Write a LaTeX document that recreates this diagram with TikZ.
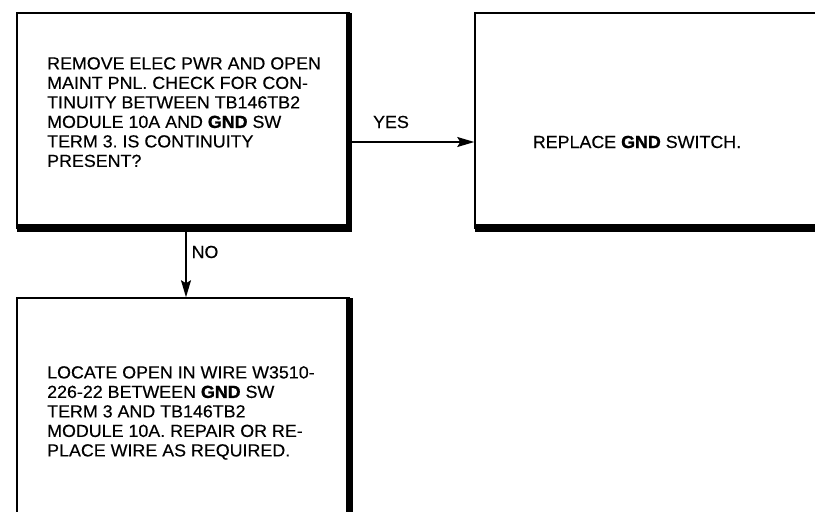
\documentclass[tikz,border=0pt]{standalone}
\usepackage{fontspec}
\setmainfont{Liberation Sans}[FakeStretch=1.02, UprightFeatures={FakeBold=0.3}, BoldFeatures={FakeBold=1.2}]
\usetikzlibrary{arrows.meta}
\frenchspacing
\begin{document}
\begin{tikzpicture}[x=1pt,y=-1pt,
  box/.style={draw, line width=1.5pt, inner sep=0pt},
  txt/.style={font=\fontsize{17.5}{19.5}\selectfont, align=left, anchor=north west, inner sep=0pt},
  lbl/.style={font=\fontsize{17.5}{19.5}\selectfont, inner sep=0pt},
  conn/.style={line width=1.5pt, -{Stealth[length=17pt,width=10pt,inset=3pt]}},
  shadow/.style={fill=black}]
\useasboundingbox (0,0) rectangle (815,512);
\clip (0,0) rectangle (815,512);
% boxes
\node[box, minimum width=332pt, minimum height=215pt] (b1) at (183,120.5) {};
\node[box, minimum width=360pt, minimum height=215pt] (b2) at (655,120.5) {};
\node[box, minimum width=332pt, minimum height=242pt] (b3) at (183,419) {};
% shadows
\fill[shadow] (346,13) rectangle (352,232);
\fill[shadow] (17,224) rectangle (352,232);
\fill[shadow] (475,224) rectangle (830,232);
\fill[shadow] (346,298) rectangle (353,530);
% texts
\node[txt] (t1) at (47,57) {REMOVE ELEC PWR AND OPEN\\MAINT PNL. CHECK FOR CON-\\TINUITY BETWEEN TB146TB2\\MODULE 10A AND \textbf{GND} SW\\TERM 3. IS CONTINUITY\\PRESENT?};
\node[lbl] (t2) at (637,142) {REPLACE \textbf{GND} SWITCH.};
\node[txt] (t3) at (47,366) {LOCATE OPEN IN WIRE W3510-\\226-22 BETWEEN \textbf{GND} SW\\TERM 3 AND TB146TB2\\MODULE 10A. REPAIR OR RE-\\PLACE WIRE AS REQUIRED.};
% connectors
\coordinate (ys) at (352,142);
\draw[conn] (ys) -- (ys -| b2.west);
\node[lbl] (yes) at (391,122) {YES};
\coordinate (ns) at (186,232);
\draw[conn] (ns) -- (ns |- b3.north);
\node[lbl] (no) at (205,252) {NO};
\end{tikzpicture}
\end{document}
